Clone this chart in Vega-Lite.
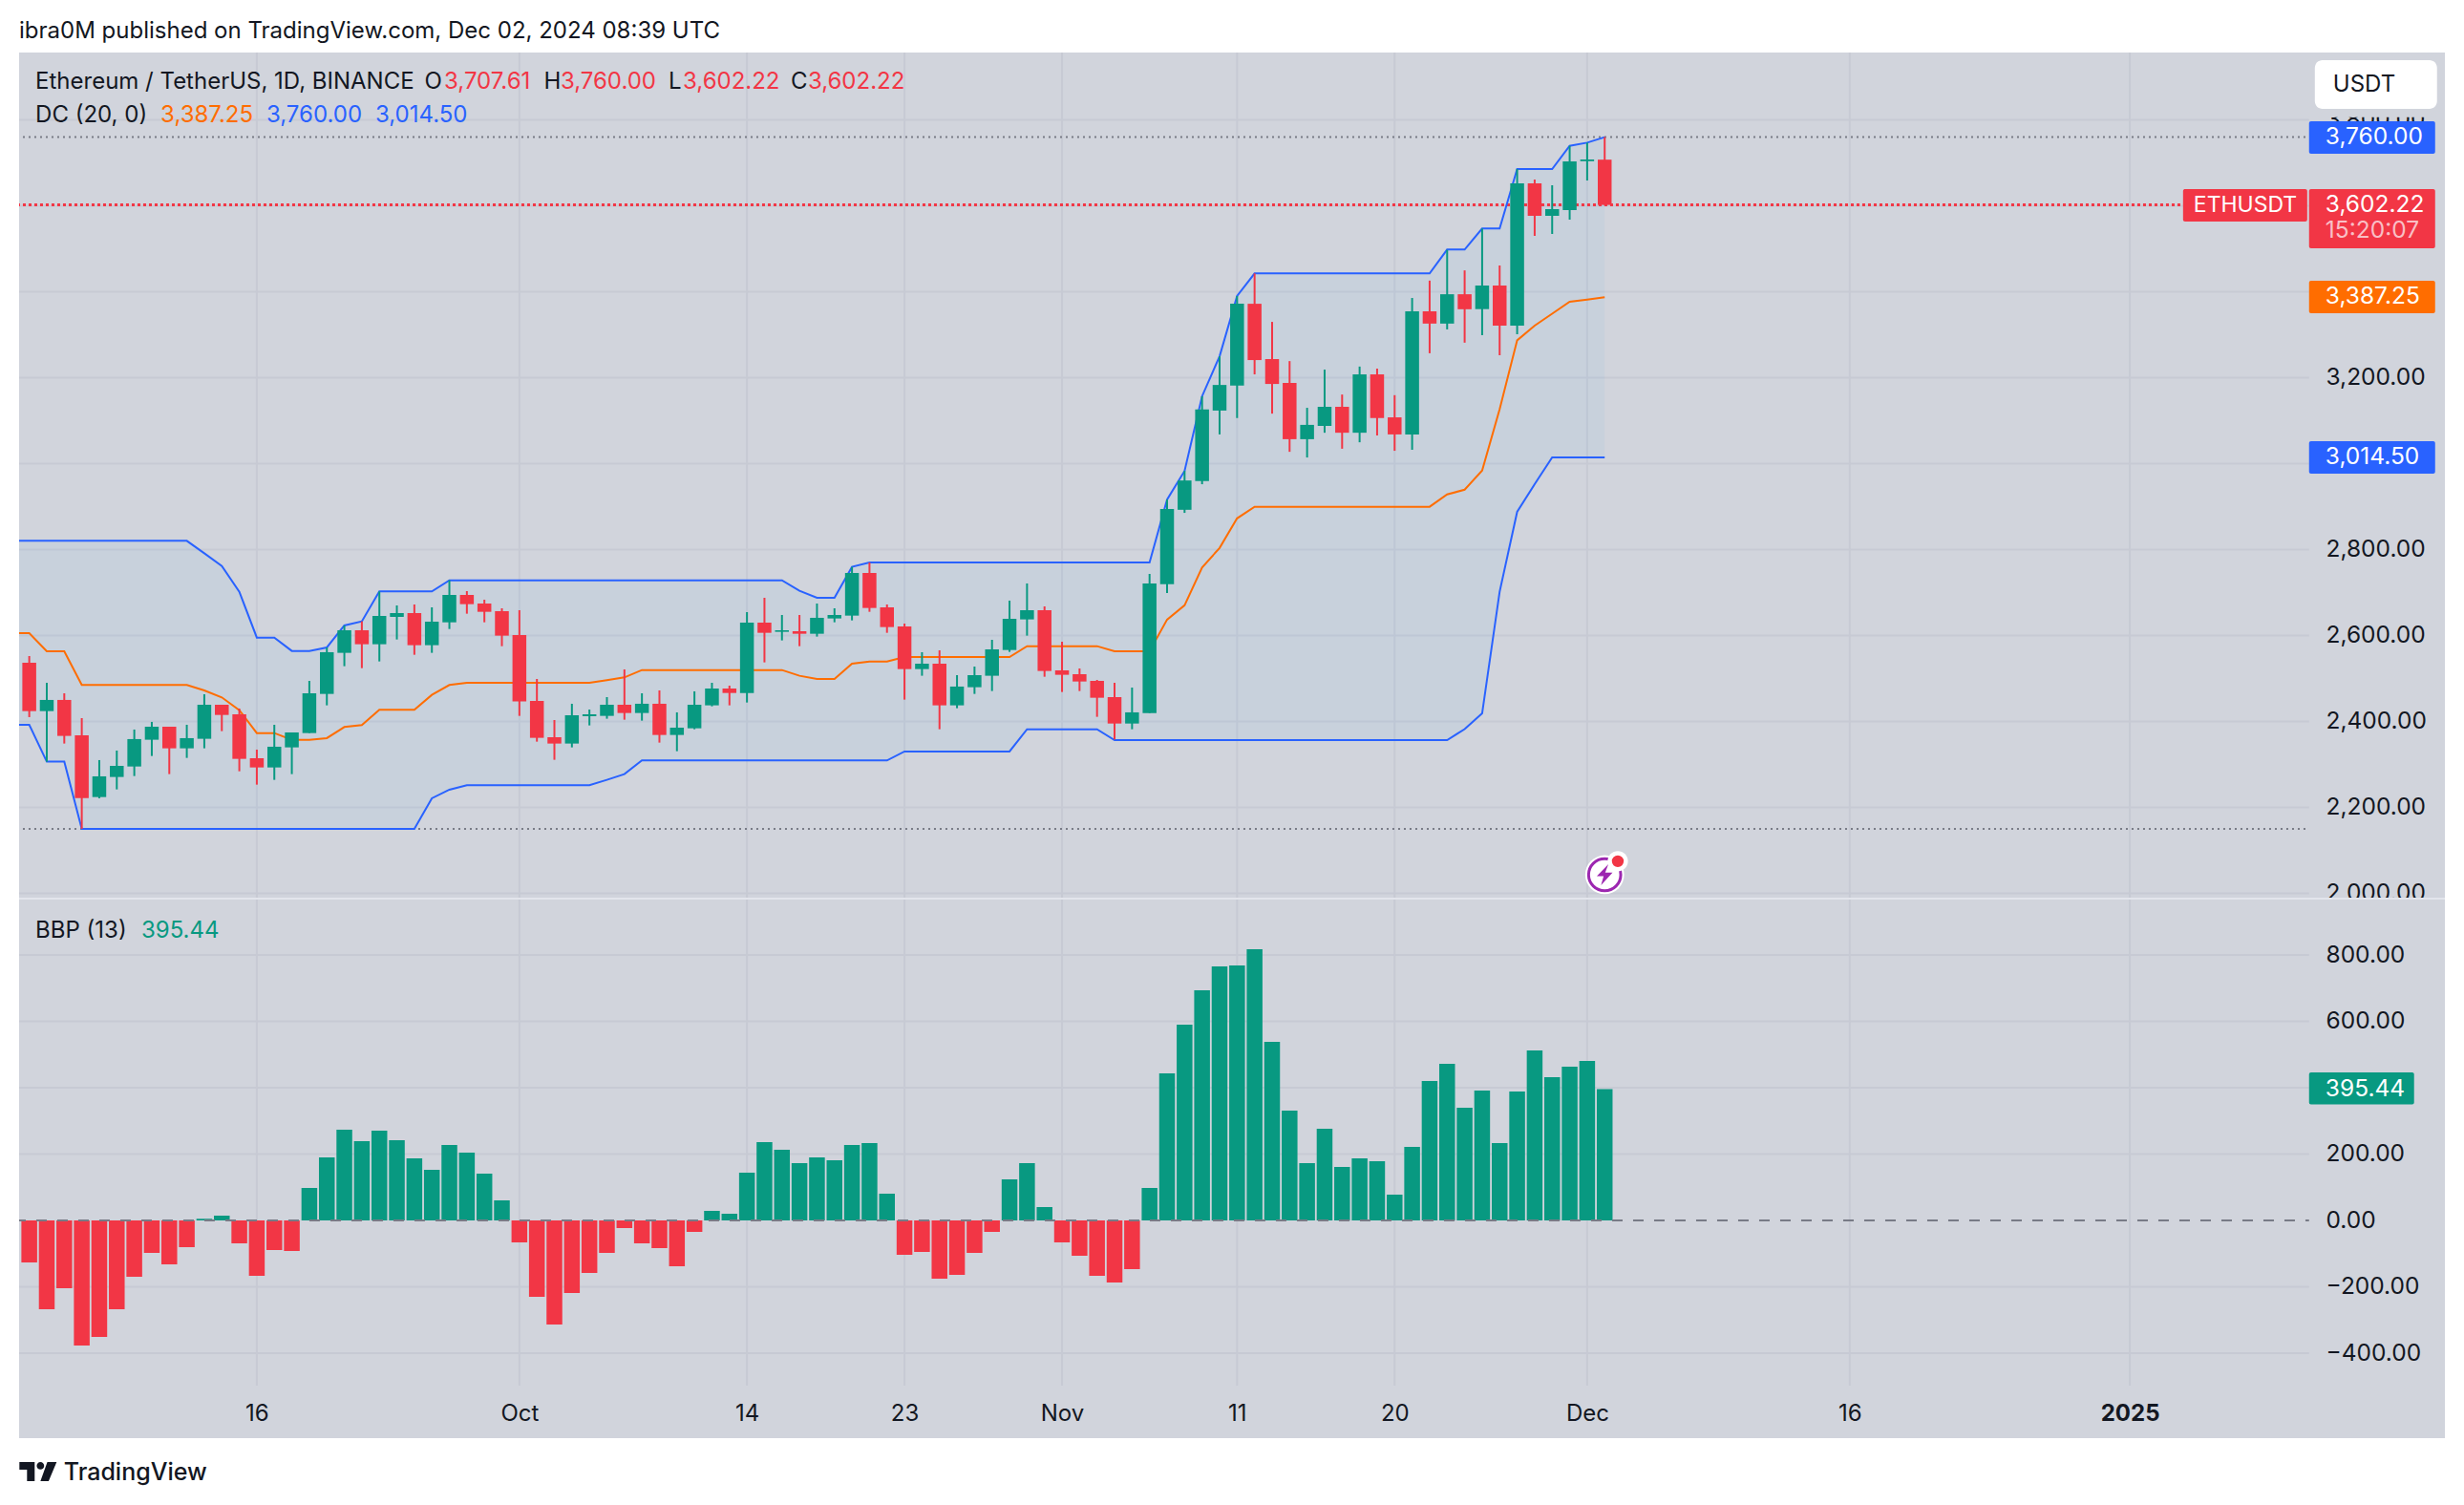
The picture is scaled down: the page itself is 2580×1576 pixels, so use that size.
{
"$schema":"https://vega.github.io/schema/vega-lite/v6.json",
"background":"#ffffff",
"padding":{"left":20,"right":20,"top":21,"bottom":60},
"title":{"text":"ibra0M published on TradingView.com, Dec 02, 2024 08:39 UTC","anchor":"start","font":"Inter","fontSize":24,"fontWeight":"normal","color":"#131722","offset":9},
"spacing":0,
"bounds":"flush",
"config":{"scale":{"continuousPadding":0},"view":{"fill":"#d1d4dc","stroke":null},"axis":{"grid":false,"domain":false,"ticks":false,"labelFont":"Inter","labelFontSize":24.5,"labelColor":"#131722","labelOverlap":false,"labelBound":false,"labelFlush":false},"text":{"font":"Inter","fontSize":24,"align":"left","baseline":"middle"}},
"datasets":{
"bars":[
{"date":"2024-09-02","open":null,"high":null,"low":null,"close":null,"upper":2820.6,"mid":2605.8,"lower":2392.5,"bbp":null},
{"date":"2024-09-03","open":2536.9,"high":2552.5,"low":2410.3,"close":2424.3,"upper":2820.6,"mid":2605.8,"lower":2392.5,"bbp":-126.6},
{"date":"2024-09-04","open":2424.3,"high":2490.2,"low":2306.6,"close":2450.3,"upper":2820.6,"mid":2563.6,"lower":2306.6,"bbp":-267.6},
{"date":"2024-09-05","open":2450.3,"high":2465.8,"low":2348.8,"close":2366.6,"upper":2820.6,"mid":2563.6,"lower":2306.6,"bbp":-204.3},
{"date":"2024-09-06","open":2368,"high":2408,"low":2150.3,"close":2222.1,"upper":2820.6,"mid":2485.1,"lower":2150.3,"bbp":-377},
{"date":"2024-09-07","open":2224.3,"high":2310.3,"low":2221.4,"close":2272.5,"upper":2820.6,"mid":2485.1,"lower":2150.3,"bbp":-351},
{"date":"2024-09-08","open":2271,"high":2332.5,"low":2242.1,"close":2296.9,"upper":2820.6,"mid":2485.1,"lower":2150.3,"bbp":-267.6},
{"date":"2024-09-09","open":2295.4,"high":2381.4,"low":2273.2,"close":2359.2,"upper":2820.6,"mid":2485.1,"lower":2150.3,"bbp":-169.8},
{"date":"2024-09-10","open":2357.7,"high":2399.2,"low":2319.9,"close":2388,"upper":2820.6,"mid":2485.1,"lower":2150.3,"bbp":-97.8},
{"date":"2024-09-11","open":2388,"high":2388,"low":2277.7,"close":2337.7,"upper":2820.6,"mid":2485.1,"lower":2150.3,"bbp":-132.4},
{"date":"2024-09-12","open":2337.7,"high":2392.5,"low":2315.4,"close":2361.4,"upper":2820.6,"mid":2485.1,"lower":2150.3,"bbp":-80.6},
{"date":"2024-09-13","open":2359.9,"high":2463.6,"low":2337.7,"close":2439.1,"upper":2791.7,"mid":2472.5,"lower":2150.3,"bbp":5},
{"date":"2024-09-14","open":2439.1,"high":2439.1,"low":2377.7,"close":2415.4,"upper":2762.1,"mid":2456.2,"lower":2150.3,"bbp":14.4},
{"date":"2024-09-15","open":2416.9,"high":2430.3,"low":2284.3,"close":2313.2,"upper":2702.1,"mid":2426.6,"lower":2150.3,"bbp":-69},
{"date":"2024-09-16","open":2314.7,"high":2334.7,"low":2253.2,"close":2293.2,"upper":2595.4,"mid":2373.2,"lower":2150.3,"bbp":-166.9},
{"date":"2024-09-17","open":2293.2,"high":2392.5,"low":2264.3,"close":2341.4,"upper":2595.4,"mid":2373.2,"lower":2150.3,"bbp":-89.2},
{"date":"2024-09-18","open":2339.9,"high":2374.7,"low":2277.7,"close":2374.7,"upper":2564.3,"mid":2357.7,"lower":2150.3,"bbp":-92},
{"date":"2024-09-19","open":2373.2,"high":2494.7,"low":2373.2,"close":2465.8,"upper":2564.3,"mid":2357.7,"lower":2150.3,"bbp":97.8},
{"date":"2024-09-20","open":2464.3,"high":2572.5,"low":2437.7,"close":2561.4,"upper":2572.5,"mid":2361.4,"lower":2150.3,"bbp":190},
{"date":"2024-09-21","open":2559.9,"high":2623.6,"low":2528.8,"close":2612.5,"upper":2623.6,"mid":2387.3,"lower":2150.3,"bbp":273.4},
{"date":"2024-09-22","open":2612.5,"high":2633.2,"low":2524.3,"close":2579.9,"upper":2633.2,"mid":2391.7,"lower":2150.3,"bbp":238.8},
{"date":"2024-09-23","open":2579.9,"high":2702.8,"low":2539.9,"close":2645.8,"upper":2702.8,"mid":2427.3,"lower":2150.3,"bbp":270.5},
{"date":"2024-09-24","open":2643.6,"high":2670.2,"low":2591,"close":2652.5,"upper":2702.8,"mid":2427.3,"lower":2150.3,"bbp":241.7},
{"date":"2024-09-25","open":2652.5,"high":2672.5,"low":2555.4,"close":2577.7,"upper":2702.8,"mid":2427.3,"lower":2150.3,"bbp":187},
{"date":"2024-09-26","open":2577.7,"high":2665.8,"low":2559.9,"close":2632.5,"upper":2702.8,"mid":2462.1,"lower":2221.4,"bbp":152.5},
{"date":"2024-09-27","open":2630.9,"high":2728.8,"low":2615.4,"close":2694.7,"upper":2728.8,"mid":2485.1,"lower":2241.4,"bbp":227.3},
{"date":"2024-09-28","open":2694.7,"high":2703.6,"low":2651,"close":2673.2,"upper":2728.8,"mid":2490.3,"lower":2251.7,"bbp":204.3},
{"date":"2024-09-29","open":2674.7,"high":2683.6,"low":2631,"close":2655.4,"upper":2728.8,"mid":2490.3,"lower":2251.7,"bbp":141},
{"date":"2024-09-30","open":2656.9,"high":2663.6,"low":2575.4,"close":2599.9,"upper":2728.8,"mid":2490.3,"lower":2251.7,"bbp":60.4},
{"date":"2024-10-01","open":2601.4,"high":2659.1,"low":2413.2,"close":2446.6,"upper":2728.8,"mid":2490.3,"lower":2251.7,"bbp":-66.2},
{"date":"2024-10-02","open":2448,"high":2499.1,"low":2353.2,"close":2362.1,"upper":2728.8,"mid":2490.3,"lower":2251.7,"bbp":-230.2},
{"date":"2024-10-03","open":2363.6,"high":2403.6,"low":2311,"close":2348.8,"upper":2728.8,"mid":2490.3,"lower":2251.7,"bbp":-313.7},
{"date":"2024-10-04","open":2348.8,"high":2441.4,"low":2339.9,"close":2414.7,"upper":2728.8,"mid":2490.3,"lower":2251.7,"bbp":-218.7},
{"date":"2024-10-05","open":2412.5,"high":2428,"low":2391,"close":2416.9,"upper":2728.8,"mid":2490.3,"lower":2251.7,"bbp":-158.3},
{"date":"2024-10-06","open":2413.2,"high":2456.9,"low":2406.6,"close":2439.1,"upper":2728.8,"mid":2496.2,"lower":2264.3,"bbp":-97.8},
{"date":"2024-10-07","open":2439.1,"high":2521.4,"low":2404.3,"close":2419.9,"upper":2728.8,"mid":2502.8,"lower":2277.7,"bbp":-23},
{"date":"2024-10-08","open":2419.9,"high":2465.8,"low":2402.1,"close":2441.4,"upper":2728.8,"mid":2519.9,"lower":2309.5,"bbp":-69},
{"date":"2024-10-09","open":2441.4,"high":2472.5,"low":2351,"close":2368.8,"upper":2728.8,"mid":2519.9,"lower":2309.5,"bbp":-83.5},
{"date":"2024-10-10","open":2368.8,"high":2421.4,"low":2331,"close":2385.8,"upper":2728.8,"mid":2519.9,"lower":2309.5,"bbp":-138.1},
{"date":"2024-10-11","open":2384.3,"high":2470.3,"low":2382.1,"close":2439.1,"upper":2728.8,"mid":2519.9,"lower":2309.5,"bbp":-34.5},
{"date":"2024-10-12","open":2437.7,"high":2490.2,"low":2435.4,"close":2476.9,"upper":2728.8,"mid":2519.9,"lower":2309.5,"bbp":28.8},
{"date":"2024-10-13","open":2476.9,"high":2483.6,"low":2437.7,"close":2466.5,"upper":2728.8,"mid":2519.9,"lower":2309.5,"bbp":20.1},
{"date":"2024-10-14","open":2466.5,"high":2654.7,"low":2444.3,"close":2630.2,"upper":2728.8,"mid":2519.9,"lower":2309.5,"bbp":143.9},
{"date":"2024-10-15","open":2630.2,"high":2688,"low":2537.7,"close":2606.5,"upper":2728.8,"mid":2519.9,"lower":2309.5,"bbp":236},
{"date":"2024-10-16","open":2608.8,"high":2648,"low":2588.8,"close":2612.5,"upper":2728.8,"mid":2519.9,"lower":2309.5,"bbp":213},
{"date":"2024-10-17","open":2610.2,"high":2648,"low":2575.4,"close":2604.3,"upper":2704.3,"mid":2506.6,"lower":2309.5,"bbp":172.7},
{"date":"2024-10-18","open":2604.3,"high":2674.7,"low":2597.7,"close":2641.4,"upper":2688,"mid":2499.1,"lower":2309.5,"bbp":190},
{"date":"2024-10-19","open":2639.9,"high":2663.6,"low":2631,"close":2648,"upper":2688,"mid":2499.1,"lower":2309.5,"bbp":181.3},
{"date":"2024-10-20","open":2646.5,"high":2759.9,"low":2635.4,"close":2745.8,"upper":2759.9,"mid":2534.7,"lower":2309.5,"bbp":227.3},
{"date":"2024-10-21","open":2745.8,"high":2770.2,"low":2655.4,"close":2664.3,"upper":2770.2,"mid":2539.9,"lower":2309.5,"bbp":233.1},
{"date":"2024-10-22","open":2665.8,"high":2672.5,"low":2606.5,"close":2619.9,"upper":2770.2,"mid":2539.9,"lower":2309.5,"bbp":80.6},
{"date":"2024-10-23","open":2621.3,"high":2628,"low":2451,"close":2522.1,"upper":2770.2,"mid":2550.2,"lower":2330.3,"bbp":-103.6},
{"date":"2024-10-24","open":2522.1,"high":2561.4,"low":2506.6,"close":2534.7,"upper":2770.2,"mid":2550.2,"lower":2330.3,"bbp":-95},
{"date":"2024-10-25","open":2534.7,"high":2565.8,"low":2382.1,"close":2437.7,"upper":2770.2,"mid":2550.2,"lower":2330.3,"bbp":-175.5},
{"date":"2024-10-26","open":2437.7,"high":2508,"low":2431,"close":2481.4,"upper":2770.2,"mid":2550.2,"lower":2330.3,"bbp":-164},
{"date":"2024-10-27","open":2479.9,"high":2528,"low":2464.3,"close":2508,"upper":2770.2,"mid":2550.2,"lower":2330.3,"bbp":-97.8},
{"date":"2024-10-28","open":2506.6,"high":2590.2,"low":2471,"close":2568,"upper":2770.2,"mid":2550.2,"lower":2330.3,"bbp":-34.5},
{"date":"2024-10-29","open":2566.5,"high":2681.4,"low":2562.1,"close":2639.1,"upper":2770.2,"mid":2550.2,"lower":2330.3,"bbp":123.7},
{"date":"2024-10-30","open":2637.7,"high":2721.4,"low":2599.9,"close":2659.1,"upper":2770.2,"mid":2575.4,"lower":2382.1,"bbp":172.7},
{"date":"2024-10-31","open":2659.1,"high":2668,"low":2504.3,"close":2517.7,"upper":2770.2,"mid":2575.4,"lower":2382.1,"bbp":40.3},
{"date":"2024-11-01","open":2519.1,"high":2585.8,"low":2468.8,"close":2508.8,"upper":2770.2,"mid":2575.4,"lower":2382.1,"bbp":-66.2},
{"date":"2024-11-02","open":2510.2,"high":2523.6,"low":2471,"close":2493.2,"upper":2770.2,"mid":2575.4,"lower":2382.1,"bbp":-106.5},
{"date":"2024-11-03","open":2494.7,"high":2496.9,"low":2411,"close":2455.4,"upper":2770.2,"mid":2575.4,"lower":2382.1,"bbp":-166.9},
{"date":"2024-11-04","open":2456.9,"high":2490.2,"low":2358.4,"close":2395.4,"upper":2770.2,"mid":2563.6,"lower":2356.9,"bbp":-187},
{"date":"2024-11-05","open":2395.4,"high":2479.1,"low":2382.1,"close":2421.4,"upper":2770.2,"mid":2563.6,"lower":2356.9,"bbp":-146.8},
{"date":"2024-11-06","open":2419.9,"high":2743.6,"low":2419.9,"close":2721.4,"upper":2770.2,"mid":2563.6,"lower":2356.9,"bbp":97.8},
{"date":"2024-11-07","open":2719.7,"high":2916.6,"low":2699.1,"close":2894.4,"upper":2916.6,"mid":2637.2,"lower":2356.9,"bbp":443.2},
{"date":"2024-11-08","open":2892.8,"high":2983.2,"low":2885.6,"close":2961,"upper":2983.2,"mid":2670.5,"lower":2356.9,"bbp":589.9},
{"date":"2024-11-09","open":2959.4,"high":3157,"low":2952.3,"close":3126.1,"upper":3157,"mid":2758.6,"lower":2356.9,"bbp":693.5},
{"date":"2024-11-10","open":3123.7,"high":3250,"low":3068.2,"close":3183.3,"upper":3250,"mid":2803.9,"lower":2356.9,"bbp":765.4},
{"date":"2024-11-11","open":3181.7,"high":3390.4,"low":3106.3,"close":3372.2,"upper":3390.4,"mid":2872.9,"lower":2356.9,"bbp":768.3},
{"date":"2024-11-12","open":3372.2,"high":3442.8,"low":3207.9,"close":3241.2,"upper":3442.8,"mid":2899.9,"lower":2356.9,"bbp":817.2},
{"date":"2024-11-13","open":3243.6,"high":3330.1,"low":3116.6,"close":3185.6,"upper":3442.8,"mid":2899.9,"lower":2356.9,"bbp":538.1},
{"date":"2024-11-14","open":3188,"high":3238.8,"low":3027.7,"close":3057.1,"upper":3442.8,"mid":2899.9,"lower":2356.9,"bbp":330.9},
{"date":"2024-11-15","open":3057.1,"high":3130.1,"low":3014.5,"close":3090.4,"upper":3442.8,"mid":2899.9,"lower":2356.9,"bbp":172.7},
{"date":"2024-11-16","open":3088,"high":3219,"low":3072.1,"close":3132.5,"upper":3442.8,"mid":2899.9,"lower":2356.9,"bbp":276.3},
{"date":"2024-11-17","open":3132.5,"high":3161,"low":3034.9,"close":3072.1,"upper":3442.8,"mid":2899.9,"lower":2356.9,"bbp":161.1},
{"date":"2024-11-18","open":3072.1,"high":3226.1,"low":3049.9,"close":3207.9,"upper":3442.8,"mid":2899.9,"lower":2356.9,"bbp":187},
{"date":"2024-11-19","open":3207.9,"high":3221.4,"low":3065.8,"close":3106.3,"upper":3442.8,"mid":2899.9,"lower":2356.9,"bbp":178.4},
{"date":"2024-11-20","open":3107.9,"high":3159.5,"low":3030.1,"close":3068.2,"upper":3442.8,"mid":2899.9,"lower":2356.9,"bbp":77.7},
{"date":"2024-11-21","open":3068.2,"high":3385.7,"low":3032.5,"close":3354.7,"upper":3442.8,"mid":2899.9,"lower":2356.9,"bbp":221.6},
{"date":"2024-11-22","open":3354.7,"high":3426.1,"low":3257.1,"close":3326.1,"upper":3442.8,"mid":2899.9,"lower":2356.9,"bbp":420.1},
{"date":"2024-11-23","open":3326.1,"high":3497.6,"low":3312.6,"close":3394.4,"upper":3498.4,"mid":2928.5,"lower":2356.9,"bbp":471.9},
{"date":"2024-11-24","open":3394.4,"high":3449.9,"low":3281.7,"close":3359.5,"upper":3498.4,"mid":2939.6,"lower":2382.4,"bbp":339.6},
{"date":"2024-11-25","open":3359.8,"high":3547.3,"low":3299.1,"close":3414.7,"upper":3547.3,"mid":2984,"lower":2419,"bbp":391.4},
{"date":"2024-11-26","open":3414.7,"high":3461.3,"low":3252.5,"close":3321.3,"upper":3547.3,"mid":3126.9,"lower":2702.3,"bbp":233.1},
{"date":"2024-11-27","open":3321.3,"high":3685.8,"low":3301.3,"close":3652.4,"upper":3685.8,"mid":3287.2,"lower":2888,"bbp":388.5},
{"date":"2024-11-28","open":3652.4,"high":3661.3,"low":3530.2,"close":3576.9,"upper":3685.8,"mid":3321.4,"lower":2952.3,"bbp":512.2},
{"date":"2024-11-29","open":3576.9,"high":3648,"low":3534.7,"close":3592.4,"upper":3685.8,"mid":3349.1,"lower":3014.5,"bbp":431.6},
{"date":"2024-11-30","open":3590.2,"high":3739.8,"low":3568,"close":3703.5,"upper":3739.8,"mid":3376.9,"lower":3014.5,"bbp":463.3},
{"date":"2024-12-01","open":3704,"high":3747.2,"low":3659.1,"close":3708,"upper":3747.2,"mid":3381.7,"lower":3014.5,"bbp":480.6},
{"date":"2024-12-02","open":3707.61,"high":3760,"low":3602.22,"close":3602.22,"upper":3760,"mid":3387.25,"lower":3014.5,"bbp":395.44}
],
"timeGrid":[{"date":"2024-09-16"},{"date":"2024-10-01"},{"date":"2024-10-14"},{"date":"2024-10-23"},{"date":"2024-11-01"},{"date":"2024-11-11"},{"date":"2024-11-20"},{"date":"2024-12-01"},{"date":"2024-12-16"},{"date":"2025-01-01"}]
},
"vconcat":[
{"width":2540,"height":885,"layer":[
{"data":{"values":[{"level":2000,"from":"2024-09-01","to":"2025-01-11T05:45:00Z"},{"level":2200,"from":"2024-09-01","to":"2025-01-11T05:45:00Z"},{"level":2400,"from":"2024-09-01","to":"2025-01-11T05:45:00Z"},{"level":2600,"from":"2024-09-01","to":"2025-01-11T05:45:00Z"},{"level":2800,"from":"2024-09-01","to":"2025-01-11T05:45:00Z"},{"level":3000,"from":"2024-09-01","to":"2025-01-11T05:45:00Z"},{"level":3200,"from":"2024-09-01","to":"2025-01-11T05:45:00Z"},{"level":3400,"from":"2024-09-01","to":"2025-01-11T05:45:00Z"},{"level":3600,"from":"2024-09-01","to":"2025-01-11T05:45:00Z"},{"level":3800,"from":"2024-09-01","to":"2025-01-11T05:45:00Z"}]},
"mark":{"type":"rule","color":"#c7cad4","strokeWidth":2,"clip":true},
"encoding":{"x":{"field":"from","type":"temporal","scale":{"type":"utc","nice":false,"domain":[{"year":2024,"month":"sep","date":2,"hours":10,"minutes":4,"utc":true},{"year":2025,"month":"jan","date":19,"utc":true}]},"axis":null},"x2":{"field":"to"},
"y":{"field":"level","type":"quantitative","title":null,"scale":{"domain":[1990.2,3956.9],"nice":false,"zero":false},"axis":{"orient":"right","offset":-143,"labelPadding":18,"labelAlign":"left","labelBaseline":"middle","values":[2000,2200,2400,2600,2800,3200,3800],"format":",.2f"}}}},
{"data":{"name":"timeGrid"},"mark":{"type":"rule","color":"#c7cad4","strokeWidth":2},
"encoding":{"x":{"field":"date","type":"temporal","scale":{"type":"utc","nice":false,"domain":[{"year":2024,"month":"sep","date":2,"hours":10,"minutes":4,"utc":true},{"year":2025,"month":"jan","date":19,"utc":true}]},"axis":null}}},
{"data":{"name":"bars"},"mark":{"type":"area","color":"#2196F3","opacity":0.05,"clip":true,"interpolate":"linear"},
"encoding":{"x":{"field":"date","type":"temporal","scale":{"type":"utc","nice":false,"domain":[{"year":2024,"month":"sep","date":2,"hours":10,"minutes":4,"utc":true},{"year":2025,"month":"jan","date":19,"utc":true}]},"axis":null},"y":{"field":"upper","type":"quantitative","title":null,"scale":{"domain":[1990.2,3956.9],"nice":false,"zero":false}},"y2":{"field":"lower"}}},
{"data":{"values":[{"level":3760,"from":"2024-09-01","to":"2025-01-11T05:45:00Z"},{"level":2150.3,"from":"2024-09-01","to":"2025-01-11T05:45:00Z"}]},"mark":{"type":"rule","color":"#787b86","strokeWidth":2,"strokeDash":[2,4],"clip":true},
"encoding":{"x":{"field":"from","type":"temporal","scale":{"type":"utc","nice":false,"domain":[{"year":2024,"month":"sep","date":2,"hours":10,"minutes":4,"utc":true},{"year":2025,"month":"jan","date":19,"utc":true}]},"axis":null},"x2":{"field":"to"},"y":{"field":"level","type":"quantitative","title":null,"scale":{"domain":[1990.2,3956.9],"nice":false,"zero":false}}}},
{"data":{"values":[{"level":3602.22,"from":"2024-09-01","to":"2025-01-04T01:00:00Z"}]},"mark":{"type":"rule","color":"#F23645","strokeWidth":3,"strokeDash":[3,3],"clip":true},
"encoding":{"x":{"field":"from","type":"temporal","scale":{"type":"utc","nice":false,"domain":[{"year":2024,"month":"sep","date":2,"hours":10,"minutes":4,"utc":true},{"year":2025,"month":"jan","date":19,"utc":true}]},"axis":null},"x2":{"field":"to"},"y":{"field":"level","type":"quantitative","title":null,"scale":{"domain":[1990.2,3956.9],"nice":false,"zero":false}}}},
{"data":{"name":"bars"},"mark":{"type":"line","color":"#FF6D00","strokeWidth":2,"clip":true},
"encoding":{"x":{"field":"date","type":"temporal","scale":{"type":"utc","nice":false,"domain":[{"year":2024,"month":"sep","date":2,"hours":10,"minutes":4,"utc":true},{"year":2025,"month":"jan","date":19,"utc":true}]},"axis":null},"y":{"field":"mid","type":"quantitative","title":null,"scale":{"domain":[1990.2,3956.9],"nice":false,"zero":false}}}},
{"data":{"name":"bars"},"mark":{"type":"line","color":"#2962FF","strokeWidth":2,"clip":true},
"encoding":{"x":{"field":"date","type":"temporal","scale":{"type":"utc","nice":false,"domain":[{"year":2024,"month":"sep","date":2,"hours":10,"minutes":4,"utc":true},{"year":2025,"month":"jan","date":19,"utc":true}]},"axis":null},"y":{"field":"upper","type":"quantitative","title":null,"scale":{"domain":[1990.2,3956.9],"nice":false,"zero":false}}}},
{"data":{"name":"bars"},"mark":{"type":"line","color":"#2962FF","strokeWidth":2,"clip":true},
"encoding":{"x":{"field":"date","type":"temporal","scale":{"type":"utc","nice":false,"domain":[{"year":2024,"month":"sep","date":2,"hours":10,"minutes":4,"utc":true},{"year":2025,"month":"jan","date":19,"utc":true}]},"axis":null},"y":{"field":"lower","type":"quantitative","title":null,"scale":{"domain":[1990.2,3956.9],"nice":false,"zero":false}}}},
{"data":{"name":"bars"},"mark":{"type":"rule","strokeWidth":2},
"encoding":{"x":{"field":"date","type":"temporal","scale":{"type":"utc","nice":false,"domain":[{"year":2024,"month":"sep","date":2,"hours":10,"minutes":4,"utc":true},{"year":2025,"month":"jan","date":19,"utc":true}]},"axis":null},"y":{"field":"low","type":"quantitative","title":null,"scale":{"domain":[1990.2,3956.9],"nice":false,"zero":false}},"y2":{"field":"high"},"color":{"condition":{"test":"datum.close >= datum.open","value":"#089981"},"value":"#F23645"}}},
{"data":{"name":"bars"},"mark":{"type":"bar","width":14.5},
"encoding":{"x":{"field":"date","type":"temporal","scale":{"type":"utc","nice":false,"domain":[{"year":2024,"month":"sep","date":2,"hours":10,"minutes":4,"utc":true},{"year":2025,"month":"jan","date":19,"utc":true}]},"axis":null},"y":{"field":"open","type":"quantitative","title":null,"scale":{"domain":[1990.2,3956.9],"nice":false,"zero":false}},"y2":{"field":"close"},"color":{"condition":{"test":"datum.close >= datum.open","value":"#089981"},"value":"#F23645"}}},
{"data":{"values":[{"from":"2025-01-11T05:45:00Z","to":"2025-01-19T00:00:00Z","top":3825.8,"bottom":3806.4}]},"mark":{"type":"rect","color":"#d1d4dc"},
"encoding":{"x":{"field":"from","type":"temporal","scale":{"type":"utc","nice":false,"domain":[{"year":2024,"month":"sep","date":2,"hours":10,"minutes":4,"utc":true},{"year":2025,"month":"jan","date":19,"utc":true}]},"axis":null},"x2":{"field":"to"},"y":{"field":"top","type":"quantitative","title":null,"scale":{"domain":[1990.2,3956.9],"nice":false,"zero":false}},"y2":{"field":"bottom"}}},
{"data":{"values":[
{"from":"2025-01-11T05:45:00Z","to":"2025-01-18T10:36:00Z","top":3796.9,"bottom":3721.3,"tag":"upper"},
{"from":"2025-01-11T05:45:00Z","to":"2025-01-18T10:36:00Z","top":3639.1,"bottom":3501.3,"tag":"last"},
{"from":"2025-01-04T01:00:00Z","to":"2025-01-11T03:12:00Z","top":3639.1,"bottom":3563.6,"tag":"last"},
{"from":"2025-01-11T05:45:00Z","to":"2025-01-18T10:36:00Z","top":3425.8,"bottom":3350.4,"tag":"mid"},
{"from":"2025-01-11T05:45:00Z","to":"2025-01-18T10:36:00Z","top":3052.4,"bottom":2976.9,"tag":"upper"}]},
"mark":{"type":"rect","cornerRadius":2},
"encoding":{"x":{"field":"from","type":"temporal","scale":{"type":"utc","nice":false,"domain":[{"year":2024,"month":"sep","date":2,"hours":10,"minutes":4,"utc":true},{"year":2025,"month":"jan","date":19,"utc":true}]},"axis":null},"x2":{"field":"to"},"y":{"field":"top","type":"quantitative","title":null,"scale":{"domain":[1990.2,3956.9],"nice":false,"zero":false}},"y2":{"field":"bottom"},"color":{"field":"tag","type":"nominal","legend":null,"scale":{"domain":["upper","last","mid"],"range":["#2962FF","#F23645","#FF6D00"]}}}},
{"data":{"values":[{"from":"2025-01-11T13:40:00Z","to":"2025-01-18T13:12:00Z","top":3939.1,"bottom":3825.8}]},"mark":{"type":"rect","color":"#ffffff","cornerRadius":8},
"encoding":{"x":{"field":"from","type":"temporal","scale":{"type":"utc","nice":false,"domain":[{"year":2024,"month":"sep","date":2,"hours":10,"minutes":4,"utc":true},{"year":2025,"month":"jan","date":19,"utc":true}]},"axis":null},"x2":{"field":"to"},"y":{"field":"top","type":"quantitative","title":null,"scale":{"domain":[1990.2,3956.9],"nice":false,"zero":false}},"y2":{"field":"bottom"}}},
{"data":{"values":[
{"at":"2024-09-03T08:24:00Z","level":3886.9,"label":"Ethereum / TetherUS, 1D, BINANCE"},
{"at":"2024-09-25T13:55:00Z","level":3886.9,"label":"O"},
{"at":"2024-10-02T09:36:00Z","level":3886.9,"label":"H"},
{"at":"2024-10-09T12:29:00Z","level":3886.9,"label":"L"},
{"at":"2024-10-16T12:00:00Z","level":3886.9,"label":"C"},
{"at":"2024-09-03T08:24:00Z","level":3810.2,"label":"DC (20, 0)"},
{"at":"2025-01-12T14:30:00Z","level":3882.4,"label":"USDT"}]},
"mark":{"type":"text","color":"#131722"},
"encoding":{"x":{"field":"at","type":"temporal","scale":{"type":"utc","nice":false,"domain":[{"year":2024,"month":"sep","date":2,"hours":10,"minutes":4,"utc":true},{"year":2025,"month":"jan","date":19,"utc":true}]},"axis":null},"y":{"field":"level","type":"quantitative","title":null,"scale":{"domain":[1990.2,3956.9],"nice":false,"zero":false}},"text":{"field":"label"}}},
{"data":{"values":[
{"at":"2024-09-26T16:48:00Z","level":3886.9,"label":"3,707.61"},
{"at":"2024-10-03T08:24:00Z","level":3886.9,"label":"3,760.00"},
{"at":"2024-10-10T08:10:00Z","level":3886.9,"label":"3,602.22"},
{"at":"2024-10-17T11:31:00Z","level":3886.9,"label":"3,602.22"}]},
"mark":{"type":"text","color":"#F23645"},
"encoding":{"x":{"field":"at","type":"temporal","scale":{"type":"utc","nice":false,"domain":[{"year":2024,"month":"sep","date":2,"hours":10,"minutes":4,"utc":true},{"year":2025,"month":"jan","date":19,"utc":true}]},"axis":null},"y":{"field":"level","type":"quantitative","title":null,"scale":{"domain":[1990.2,3956.9],"nice":false,"zero":false}},"text":{"field":"label"}}},
{"data":{"values":[{"at":"2024-09-10T12:00:00Z","level":3810.2,"label":"3,387.25"}]},
"mark":{"type":"text","color":"#FF6D00"},
"encoding":{"x":{"field":"at","type":"temporal","scale":{"type":"utc","nice":false,"domain":[{"year":2024,"month":"sep","date":2,"hours":10,"minutes":4,"utc":true},{"year":2025,"month":"jan","date":19,"utc":true}]},"axis":null},"y":{"field":"level","type":"quantitative","title":null,"scale":{"domain":[1990.2,3956.9],"nice":false,"zero":false}},"text":{"field":"label"}}},
{"data":{"values":[{"at":"2024-09-16T13:12:00Z","level":3810.2,"label":"3,760.00"},{"at":"2024-09-22T18:29:00Z","level":3810.2,"label":"3,014.50"}]},
"mark":{"type":"text","color":"#2962FF"},
"encoding":{"x":{"field":"at","type":"temporal","scale":{"type":"utc","nice":false,"domain":[{"year":2024,"month":"sep","date":2,"hours":10,"minutes":4,"utc":true},{"year":2025,"month":"jan","date":19,"utc":true}]},"axis":null},"y":{"field":"level","type":"quantitative","title":null,"scale":{"domain":[1990.2,3956.9],"nice":false,"zero":false}},"text":{"field":"label"}}},
{"data":{"values":[
{"at":"2025-01-12T04:05:00Z","level":3760,"label":"3,760.00"},
{"at":"2025-01-12T04:05:00Z","level":3602.22,"label":"3,602.22"},
{"at":"2025-01-12T04:05:00Z","level":3387.25,"label":"3,387.25"},
{"at":"2025-01-12T04:05:00Z","level":3014.5,"label":"3,014.50"}]},
"mark":{"type":"text","color":"#ffffff","fontSize":24.5},
"encoding":{"x":{"field":"at","type":"temporal","scale":{"type":"utc","nice":false,"domain":[{"year":2024,"month":"sep","date":2,"hours":10,"minutes":4,"utc":true},{"year":2025,"month":"jan","date":19,"utc":true}]},"axis":null},"y":{"field":"level","type":"quantitative","title":null,"scale":{"domain":[1990.2,3956.9],"nice":false,"zero":false}},"text":{"field":"label"}}},
{"data":{"values":[{"at":"2025-01-04T15:22:00Z","level":3601,"label":"ETHUSDT"}]},
"mark":{"type":"text","color":"#ffffff","fontSize":23},
"encoding":{"x":{"field":"at","type":"temporal","scale":{"type":"utc","nice":false,"domain":[{"year":2024,"month":"sep","date":2,"hours":10,"minutes":4,"utc":true},{"year":2025,"month":"jan","date":19,"utc":true}]},"axis":null},"y":{"field":"level","type":"quantitative","title":null,"scale":{"domain":[1990.2,3956.9],"nice":false,"zero":false}},"text":{"field":"label"}}},
{"data":{"values":[{"at":"2025-01-12T04:05:00Z","level":3541.3,"label":"15:20:07"}]},
"mark":{"type":"text","color":"#f9bfc5","fontSize":24.5},
"encoding":{"x":{"field":"at","type":"temporal","scale":{"type":"utc","nice":false,"domain":[{"year":2024,"month":"sep","date":2,"hours":10,"minutes":4,"utc":true},{"year":2025,"month":"jan","date":19,"utc":true}]},"axis":null},"y":{"field":"level","type":"quantitative","title":null,"scale":{"domain":[1990.2,3956.9],"nice":false,"zero":false}},"text":{"field":"label"}}},
{"data":{"values":[{"at":"2024-12-02T00:00:00Z","level":2043.6}]},"mark":{"type":"point","filled":true,"color":"#ffffff","opacity":1,"size":1662,"shape":"circle"},
"encoding":{"x":{"field":"at","type":"temporal","scale":{"type":"utc","nice":false,"domain":[{"year":2024,"month":"sep","date":2,"hours":10,"minutes":4,"utc":true},{"year":2025,"month":"jan","date":19,"utc":true}]},"axis":null},"y":{"field":"level","type":"quantitative","title":null,"scale":{"domain":[1990.2,3956.9],"nice":false,"zero":false}}}},
{"data":{"values":[{"at":"2024-12-02T00:00:00Z","level":2043.6}]},"mark":{"type":"point","filled":false,"color":"#9C27B0","strokeWidth":3,"opacity":1,"size":1134,"shape":"circle"},
"encoding":{"x":{"field":"at","type":"temporal","scale":{"type":"utc","nice":false,"domain":[{"year":2024,"month":"sep","date":2,"hours":10,"minutes":4,"utc":true},{"year":2025,"month":"jan","date":19,"utc":true}]},"axis":null},"y":{"field":"level","type":"quantitative","title":null,"scale":{"domain":[1990.2,3956.9],"nice":false,"zero":false}}}},
{"data":{"values":[{"at":"2024-12-02T00:00:00Z","level":2043.6}]},"mark":{"type":"point","filled":true,"color":"#9C27B0","opacity":1,"size":484,"shape":"M0.35 -1L-0.75 0.15H-0.1L-0.35 1L0.75 -0.2H0.05Z"},
"encoding":{"x":{"field":"at","type":"temporal","scale":{"type":"utc","nice":false,"domain":[{"year":2024,"month":"sep","date":2,"hours":10,"minutes":4,"utc":true},{"year":2025,"month":"jan","date":19,"utc":true}]},"axis":null},"y":{"field":"level","type":"quantitative","title":null,"scale":{"domain":[1990.2,3956.9],"nice":false,"zero":false}}}},
{"data":{"values":[{"at":"2024-12-02T18:00:00Z","level":2075}]},"mark":{"type":"point","filled":true,"color":"#ffffff","opacity":1,"size":452,"shape":"circle"},
"encoding":{"x":{"field":"at","type":"temporal","scale":{"type":"utc","nice":false,"domain":[{"year":2024,"month":"sep","date":2,"hours":10,"minutes":4,"utc":true},{"year":2025,"month":"jan","date":19,"utc":true}]},"axis":null},"y":{"field":"level","type":"quantitative","title":null,"scale":{"domain":[1990.2,3956.9],"nice":false,"zero":false}}}},
{"data":{"values":[{"at":"2024-12-02T18:00:00Z","level":2075}]},"mark":{"type":"point","filled":true,"color":"#F23645","opacity":1,"size":154,"shape":"circle"},
"encoding":{"x":{"field":"at","type":"temporal","scale":{"type":"utc","nice":false,"domain":[{"year":2024,"month":"sep","date":2,"hours":10,"minutes":4,"utc":true},{"year":2025,"month":"jan","date":19,"utc":true}]},"axis":null},"y":{"field":"level","type":"quantitative","title":null,"scale":{"domain":[1990.2,3956.9],"nice":false,"zero":false}}}}
]},
{"width":2540,"height":566,"layer":[
{"data":{"values":[{"level":-400,"from":"2024-09-01","to":"2025-01-11T05:45:00Z"},{"level":-200,"from":"2024-09-01","to":"2025-01-11T05:45:00Z"},{"level":200,"from":"2024-09-01","to":"2025-01-11T05:45:00Z"},{"level":400,"from":"2024-09-01","to":"2025-01-11T05:45:00Z"},{"level":600,"from":"2024-09-01","to":"2025-01-11T05:45:00Z"},{"level":800,"from":"2024-09-01","to":"2025-01-11T05:45:00Z"}]},
"mark":{"type":"rule","color":"#c7cad4","strokeWidth":2,"clip":true},
"encoding":{"x":{"field":"from","type":"temporal","title":null,"scale":{"type":"utc","nice":false,"domain":[{"year":2024,"month":"sep","date":2,"hours":10,"minutes":4,"utc":true},{"year":2025,"month":"jan","date":19,"utc":true}]},
"axis":{"orient":"bottom","offset":-55,"labelPadding":29,"labelBaseline":"middle","labelFontSize":24,"values":[{"year":2024,"month":"sep","date":16,"utc":true},{"year":2024,"month":"oct","date":1,"utc":true},{"year":2024,"month":"oct","date":14,"utc":true},{"year":2024,"month":"oct","date":23,"utc":true},{"year":2024,"month":"nov","date":1,"utc":true},{"year":2024,"month":"nov","date":11,"utc":true},{"year":2024,"month":"nov","date":20,"utc":true},{"year":2024,"month":"dec","date":1,"utc":true},{"year":2024,"month":"dec","date":16,"utc":true},{"year":2025,"month":"jan","date":1,"utc":true}],
"labelExpr":"utcdate(datum.value)==1 ? (utcmonth(datum.value)==0 ? '2025' : utcFormat(datum.value,'%b')) : utcFormat(datum.value,'%-d')",
"labelFontWeight":{"condition":{"test":"utcmonth(datum.value)==0","value":700},"value":400}}},
"x2":{"field":"to"},
"y":{"field":"level","type":"quantitative","title":null,"scale":{"domain":[-656.1,972.7],"nice":false,"zero":false},"axis":{"orient":"right","offset":-143,"labelPadding":18,"labelAlign":"left","labelBaseline":"middle","values":[-400,-200,0,200,600,800],"format":",.2f"}}}},
{"data":{"name":"timeGrid"},"mark":{"type":"rule","color":"#c7cad4","strokeWidth":2},
"encoding":{"x":{"field":"date","type":"temporal","title":null,"scale":{"type":"utc","nice":false,"domain":[{"year":2024,"month":"sep","date":2,"hours":10,"minutes":4,"utc":true},{"year":2025,"month":"jan","date":19,"utc":true}]}},"y":{"datum":972.7,"type":"quantitative","title":null,"scale":{"domain":[-656.1,972.7],"nice":false,"zero":false}},"y2":{"datum":-497.8}}},
{"data":{"values":[{"level":969.8,"from":"2024-09-01","to":"2025-01-20"}]},"mark":{"type":"rule","color":"#e3e5ec","strokeWidth":2,"clip":true},
"encoding":{"x":{"field":"from","type":"temporal","title":null,"scale":{"type":"utc","nice":false,"domain":[{"year":2024,"month":"sep","date":2,"hours":10,"minutes":4,"utc":true},{"year":2025,"month":"jan","date":19,"utc":true}]}},"x2":{"field":"to"},"y":{"field":"level","type":"quantitative","title":null,"scale":{"domain":[-656.1,972.7],"nice":false,"zero":false}}}},
{"data":{"name":"bars"},"mark":{"type":"bar","width":16.5},
"encoding":{"x":{"field":"date","type":"temporal","title":null,"scale":{"type":"utc","nice":false,"domain":[{"year":2024,"month":"sep","date":2,"hours":10,"minutes":4,"utc":true},{"year":2025,"month":"jan","date":19,"utc":true}]}},"y":{"field":"bbp","type":"quantitative","title":null,"scale":{"domain":[-656.1,972.7],"nice":false,"zero":false}},"y2":{"datum":0},"color":{"condition":{"test":"datum.bbp >= 0","value":"#089981"},"value":"#F23645"}}},
{"data":{"values":[{"level":0,"from":"2024-09-01","to":"2025-01-11T05:45:00Z"}]},"mark":{"type":"rule","color":"#787b86","strokeWidth":2,"strokeDash":[11,11],"clip":true},
"encoding":{"x":{"field":"from","type":"temporal","title":null,"scale":{"type":"utc","nice":false,"domain":[{"year":2024,"month":"sep","date":2,"hours":10,"minutes":4,"utc":true},{"year":2025,"month":"jan","date":19,"utc":true}]}},"x2":{"field":"to"},"y":{"field":"level","type":"quantitative","title":null,"scale":{"domain":[-656.1,972.7],"nice":false,"zero":false}}}},
{"data":{"values":[{"from":"2025-01-11T05:45:00Z","to":"2025-01-17T05:45:00Z","top":446,"bottom":349.6}]},"mark":{"type":"rect","color":"#089981","cornerRadius":2},
"encoding":{"x":{"field":"from","type":"temporal","title":null,"scale":{"type":"utc","nice":false,"domain":[{"year":2024,"month":"sep","date":2,"hours":10,"minutes":4,"utc":true},{"year":2025,"month":"jan","date":19,"utc":true}]}},"x2":{"field":"to"},"y":{"field":"top","type":"quantitative","title":null,"scale":{"domain":[-656.1,972.7],"nice":false,"zero":false}},"y2":{"field":"bottom"}}},
{"data":{"values":[{"at":"2025-01-12T04:05:00Z","level":395.44,"label":"395.44"}]},"mark":{"type":"text","color":"#ffffff","fontSize":24.5},
"encoding":{"x":{"field":"at","type":"temporal","title":null,"scale":{"type":"utc","nice":false,"domain":[{"year":2024,"month":"sep","date":2,"hours":10,"minutes":4,"utc":true},{"year":2025,"month":"jan","date":19,"utc":true}]}},"y":{"field":"level","type":"quantitative","title":null,"scale":{"domain":[-656.1,972.7],"nice":false,"zero":false}},"text":{"field":"label"}}},
{"data":{"values":[{"at":"2024-09-03T08:24:00Z","level":872,"label":"BBP (13)"}]},"mark":{"type":"text","color":"#131722"},
"encoding":{"x":{"field":"at","type":"temporal","title":null,"scale":{"type":"utc","nice":false,"domain":[{"year":2024,"month":"sep","date":2,"hours":10,"minutes":4,"utc":true},{"year":2025,"month":"jan","date":19,"utc":true}]}},"y":{"field":"level","type":"quantitative","title":null,"scale":{"domain":[-656.1,972.7],"nice":false,"zero":false}},"text":{"field":"label"}}},
{"data":{"values":[{"at":"2024-09-09T09:36:00Z","level":872,"label":"395.44"}]},"mark":{"type":"text","color":"#089981"},
"encoding":{"x":{"field":"at","type":"temporal","title":null,"scale":{"type":"utc","nice":false,"domain":[{"year":2024,"month":"sep","date":2,"hours":10,"minutes":4,"utc":true},{"year":2025,"month":"jan","date":19,"utc":true}]}},"y":{"field":"level","type":"quantitative","title":null,"scale":{"domain":[-656.1,972.7],"nice":false,"zero":false}},"text":{"field":"label"}}},
{"data":{"values":[{"at":"2024-09-04T23:17:00Z","level":-761,"label":"TradingView"}]},"mark":{"type":"text","color":"#131722","fontSize":25,"fontWeight":500},
"encoding":{"x":{"field":"at","type":"temporal","title":null,"scale":{"type":"utc","nice":false,"domain":[{"year":2024,"month":"sep","date":2,"hours":10,"minutes":4,"utc":true},{"year":2025,"month":"jan","date":19,"utc":true}]}},"y":{"field":"level","type":"quantitative","title":null,"scale":{"domain":[-656.1,972.7],"nice":false,"zero":false}},"text":{"field":"label"}}},
{"data":{"values":[{"at":"2024-09-03T12:00:00Z","level":-756.8,"brand":"TradingView logo"}]},"mark":{"type":"point","filled":true,"color":"#131722","opacity":1,"size":1521,"clip":false,"shape":"M-1 -0.51H-0.18V0.51H-0.59V-0.1H-1ZM-0.07 -0.31a0.2 0.2 0 1 0 0.4 0a0.2 0.2 0 1 0 -0.4 0ZM0.5 -0.51H1L0.57 0.51H0.13Z"},
"encoding":{"x":{"field":"at","type":"temporal","title":null,"scale":{"type":"utc","nice":false,"domain":[{"year":2024,"month":"sep","date":2,"hours":10,"minutes":4,"utc":true},{"year":2025,"month":"jan","date":19,"utc":true}]}},"y":{"field":"level","type":"quantitative","title":null,"scale":{"domain":[-656.1,972.7],"nice":false,"zero":false}}}}
]}
]}
